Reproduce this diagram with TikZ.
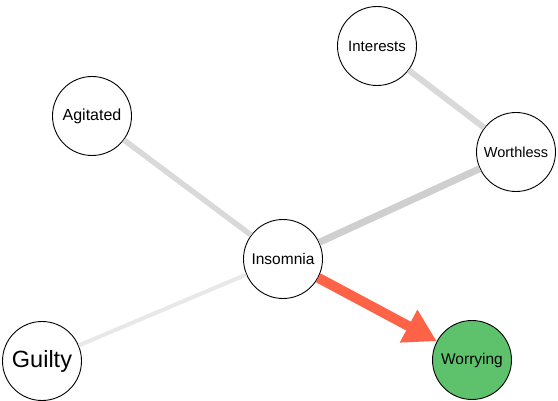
\documentclass[tikz,border=0pt]{standalone}
\usepackage{fontspec}
\setmainfont{Liberation Sans}
\usetikzlibrary{arrows.meta}
\definecolor{edgeA}{HTML}{D9D9D9}
\definecolor{edgeB}{HTML}{CFCFCF}
\definecolor{edgeC}{HTML}{E8E8E8}
\definecolor{hot}{HTML}{FF6347}
\definecolor{leaf}{HTML}{5EC26C}
\begin{document}
\begin{tikzpicture}[x=1pt,y=-1pt,
  vertex/.style={circle,draw=black,line width=0.9pt,fill=white,minimum size=79pt,inner sep=0pt},
  link/.style={line cap=butt}]
\useasboundingbox (0,0) rectangle (558,401);
% nodes
\node[vertex] (interests) at (377,46) {\fontsize{15}{17}\selectfont Interests};
\node[vertex] (agitated)  at (92,116) {\fontsize{16}{18}\selectfont Agitated};
\node[vertex] (worthless) at (516,152) {\fontsize{14.5}{16}\selectfont Worthless};
\node[vertex] (insomnia)  at (283,259) {\fontsize{15.5}{17}\selectfont Insomnia};
\node[vertex] (guilty)    at (42,361) {\fontsize{23.5}{25}\selectfont Guilty};
\node[vertex,fill=leaf] (worrying) at (472,360) {\fontsize{15.5}{17}\selectfont Worrying};
% connectors, clipped at the circle borders
\draw[link,edgeA,line width=6pt] (interests) -- (worthless);
\draw[link,edgeA,line width=5.5pt] (agitated) -- (insomnia);
\draw[link,edgeB,line width=7pt] (insomnia) -- (worthless);
\draw[link,edgeC,line width=4pt] (insomnia) -- (guilty);
\draw[link,hot,line width=10pt,-{Triangle[length=32pt,width=35pt]}] (insomnia) -- (worrying);
\end{tikzpicture}
\end{document}
